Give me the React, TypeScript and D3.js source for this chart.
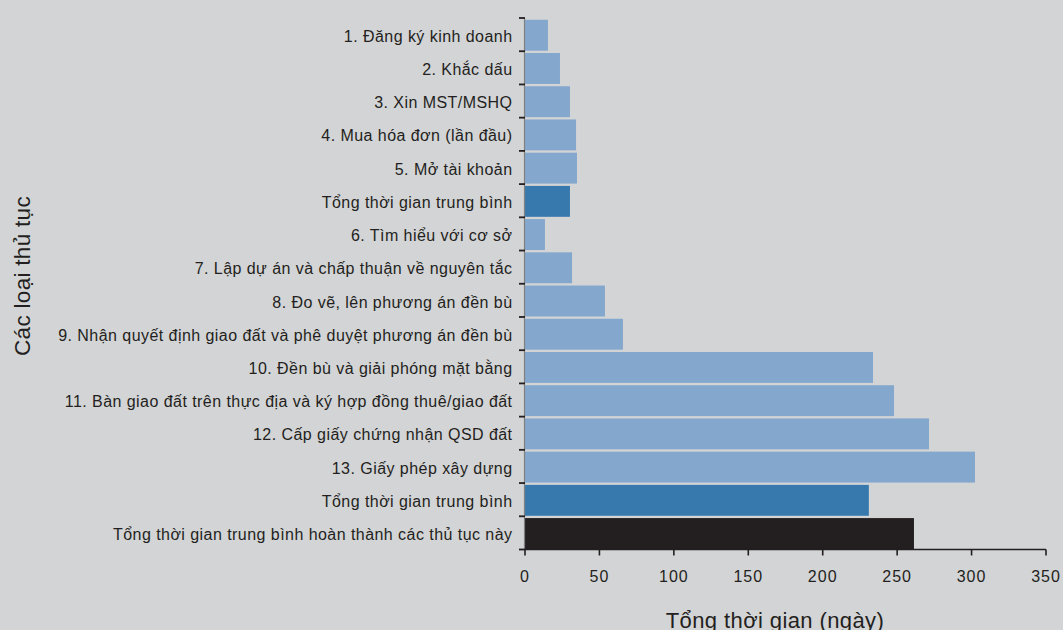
import React from "react";
import * as d3 from "d3";

const categories = [
  "1. Đăng ký kinh doanh",
  "2. Khắc dấu",
  "3. Xin MST/MSHQ",
  "4. Mua hóa đơn (lần đầu)",
  "5. Mở tài khoản",
  "Tổng thời gian trung bình",
  "6. Tìm hiểu với cơ sở",
  "7. Lập dự án và chấp thuận về nguyên tắc",
  "8. Đo vẽ, lên phương án đền bù",
  "9. Nhận quyết định giao đất và phê duyệt phương án đền bù",
  "10. Đền bù và giải phóng mặt bằng",
  "11. Bàn giao đất trên thực địa và ký hợp đồng thuê/giao đất",
  "12. Cấp giấy chứng nhận QSD đất",
  "13. Giấy phép xây dựng",
  "Tổng thời gian trung bình",
  "Tổng thời gian trung bình hoàn thành các thủ tục này",
];

const values = [15.4, 23.5, 30.2, 34.3, 34.9, 30.2, 13.4, 31.6, 53.7, 65.8, 233.8, 247.9, 271.4, 302.3, 231, 261.3];

const kinds = ["step", "step", "step", "step", "step", "avg", "step", "step", "step", "step", "step", "step", "step", "step", "avg", "total"];

const xTicks = [0, 50, 100, 150, 200, 250, 300, 350];

const xTitle = "Tổng thời gian (ngày)";
const yTitle = "Các loại thủ tục";

const colors: Record<string, string> = {
  step: "#84a7cd",
  avg: "#3879ad",
  total: "#231f20",
};

const W = 1063;
const H = 630;
const left = 525;
const right = 1046;
const top = 18;
const bottom = 549.5;
const font = "'Liberation Sans', Arial, Helvetica, sans-serif";

export default function App() {
  const x = d3.scaleLinear().domain([0, 350]).range([left, right]);
  const idx = categories.map((_, i) => String(i));
  const y = d3.scaleBand<string>().domain(idx).range([top, bottom]).paddingInner(0).paddingOuter(0);
  const step = y.step();

  return (
    <div style={{ position: "absolute", left: 0, top: 0 }}>
      <svg width={W} height={H} style={{ display: "block", background: "#d3d4d6" }}>
        <rect x={0} y={0} width={W} height={H} fill="#d3d4d6" />
        {values.map((v, i) => (
          <rect
            key={i}
            x={x(0)}
            y={(y(String(i)) as number) + 1.8}
            width={x(v) - x(0)}
            height={step - 2.3}
            fill={colors[kinds[i]]}
          />
        ))}
        {/* left axis */}
        <line x1={left - 0.5} x2={left - 0.5} y1={top} y2={bottom} stroke="#808080" strokeWidth={1.2} />
        {d3.range(categories.length + 1).map((i) => {
          const yy = top + i * step;
          return <line key={"yt" + i} x1={left - 6} x2={left} y1={yy} y2={yy} stroke="#231f20" strokeWidth={1.8} />;
        })}
        {categories.map((c, i) => (
          <text
            key={"yl" + i}
            x={512.5}
            y={(y(String(i)) as number) + step / 2}
            dy="0.45em"
            textAnchor="end"
            fontFamily={font}
            fontSize={16}
            letterSpacing={0.45}
            fill="#231f20"
          >
            {c}
          </text>
        ))}
        {/* bottom axis */}
        <line x1={left - 0.5} x2={right} y1={bottom} y2={bottom} stroke="#231f20" strokeWidth={1.6} />
        {xTicks.map((t) => (
          <g key={"xt" + t}>
            <line x1={x(t)} x2={x(t)} y1={bottom} y2={bottom + 6} stroke="#231f20" strokeWidth={1.6} />
            <text
              x={x(t)}
              y={582}
              textAnchor="middle"
              fontFamily={font}
              fontSize={16}
              letterSpacing={1}
              fill="#231f20"
            >
              {t}
            </text>
          </g>
        ))}
        <text x={775} y={628} textAnchor="middle" fontFamily={font} fontSize={22} letterSpacing={0.4} fill="#231f20">
          {xTitle}
        </text>
        <text
          transform={`translate(29.5, 276) rotate(-90)`}
          textAnchor="middle"
          fontFamily={font}
          fontSize={22.5}
          letterSpacing={0.3}
          fill="#231f20"
        >
          {yTitle}
        </text>
      </svg>
    </div>
  );
}
